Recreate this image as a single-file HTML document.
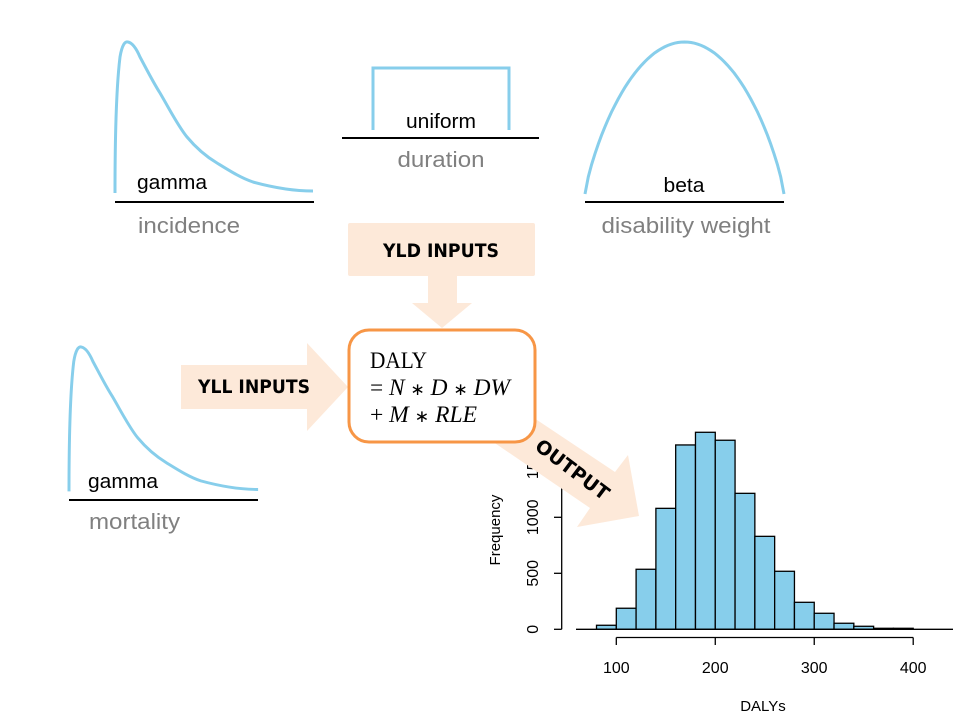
<!DOCTYPE html>
<html><head><meta charset="utf-8"><style>
html,body{margin:0;padding:0;background:#fff}
svg{display:block}
</style></head><body>
<svg id="root" width="960" height="720" viewBox="0 0 960 720" xmlns="http://www.w3.org/2000/svg" font-family="Liberation Sans, sans-serif">
 <g>
  <path d="M115,193 C115,150 116,90 120,57 C122,45 125,41 128,42 C133,43 137,50 140,57 C147,70 153,82 160,93 C170,110 178,126 187,137 C197,149 207,157 217,163 C230,171 241,178 253,182 C275,188 295,191 313,191" fill="none" stroke="#87ceeb" stroke-width="3"/>
  <line x1="115" y1="202" x2="314" y2="202" stroke="#000" stroke-width="2"/>
  <text x="137" y="189" font-size="20" textLength="70" lengthAdjust="spacingAndGlyphs">gamma</text>
  <text x="138" y="233" font-size="22" fill="#808080" textLength="102" lengthAdjust="spacingAndGlyphs">incidence</text>
 </g>
 <g>
  <path d="M373,130 L373,68 L509,68 L509,130" fill="none" stroke="#87ceeb" stroke-width="3"/>
  <line x1="342" y1="138" x2="539" y2="138" stroke="#000" stroke-width="2"/>
  <text x="441" y="128" font-size="20" text-anchor="middle" textLength="70" lengthAdjust="spacingAndGlyphs">uniform</text>
  <text x="441" y="167" font-size="22" fill="#808080" text-anchor="middle" textLength="87" lengthAdjust="spacingAndGlyphs">duration</text>
 </g>
 <g>
  <path id="betaCurve" d="" fill="none" stroke="#87ceeb" stroke-width="3"/>
  <line x1="585" y1="202" x2="784" y2="202" stroke="#000" stroke-width="2"/>
  <text x="684" y="192" font-size="20" text-anchor="middle" textLength="41" lengthAdjust="spacingAndGlyphs">beta</text>
  <text x="686" y="233" font-size="22" fill="#808080" text-anchor="middle" textLength="169" lengthAdjust="spacingAndGlyphs">disability weight</text>
 </g>
 <g>
  <g transform="translate(69,500) scale(0.955,0.956) translate(-115,-202)">
   <path d="M115,193 C115,150 116,90 120,57 C122,45 125,41 128,42 C133,43 137,50 140,57 C147,70 153,82 160,93 C170,110 178,126 187,137 C197,149 207,157 217,163 C230,171 241,178 253,182 C275,188 295,191 313,191" fill="none" stroke="#87ceeb" stroke-width="3.1"/>
  </g>
  <line x1="69" y1="500" x2="258" y2="500" stroke="#000" stroke-width="2"/>
  <text x="88" y="488" font-size="20" textLength="70" lengthAdjust="spacingAndGlyphs">gamma</text>
  <text x="89" y="529" font-size="22" fill="#808080" textLength="91" lengthAdjust="spacingAndGlyphs">mortality</text>
 </g>

 <g id="hist"></g>

 <polygon points="428,275 457,275 457,303 472,303 442,328 412,303 428,303" fill="#fde9d9"/>
 <rect x="348" y="223" width="187" height="53" rx="2" fill="#fde9d9"/>
 <text x="441" y="257" font-size="19" font-weight="bold" text-anchor="middle" font-family="DejaVu Sans, sans-serif" textLength="116" lengthAdjust="spacingAndGlyphs">YLD INPUTS</text>
 <polygon points="181,365 307,365 307,343 348,387 307,431 307,409 181,409" fill="#fde9d9"/>
 <text x="254" y="393" font-size="19" font-weight="bold" text-anchor="middle" font-family="DejaVu Sans, sans-serif" textLength="112" lengthAdjust="spacingAndGlyphs">YLL INPUTS</text>
 <polygon points="492,390 615,472 628,455 639,516 577,527 590,508 461,420" fill="#fde9d9"/>

 <rect x="349" y="330" width="186" height="112" rx="20" fill="#fff" stroke="#f79646" stroke-width="3"/>
 <g font-family="Liberation Serif, serif" font-size="23">
  <text x="370" y="368" textLength="57" lengthAdjust="spacingAndGlyphs">DALY</text>
  <text x="370" y="395" textLength="140" lengthAdjust="spacingAndGlyphs">= <tspan font-style="italic">N</tspan> <tspan font-size="17">∗</tspan> <tspan font-style="italic">D</tspan> <tspan font-size="17">∗</tspan> <tspan font-style="italic">DW</tspan></text>
  <text x="370" y="422" textLength="107" lengthAdjust="spacingAndGlyphs">+ <tspan font-style="italic">M</tspan> <tspan font-size="17">∗</tspan> <tspan font-style="italic">RLE</tspan></text>
 </g>
 <text x="572" y="476" font-size="19" font-weight="bold" text-anchor="middle" font-family="DejaVu Sans, sans-serif" transform="rotate(37 572 470)">OUTPUT</text>
</svg>
<script>
const binStarts = [80,100,120,140,160,180,200,220,240,260,280,300,320,340,360,380];
const binWidth = 20;
const counts = [36,188,536,1080,1646,1759,1688,1214,830,518,241,143,54,27,9,9];
const xTicks = [100,200,300,400];
const yTicks = [0,500,1000,1500];

const NS = 'http://www.w3.org/2000/svg';
const hist = document.getElementById('hist');
function xs(v){ return 616.3 + (v-100)*0.9897; }
function ys(v){ return 629.3 - v*0.112; }
function mk(tag, attrs){ const e=document.createElementNS(NS,tag); for(const k in attrs) e.setAttribute(k,attrs[k]); hist.appendChild(e); return e; }

for(let i=0;i<counts.length;i++){
  const x0=xs(binStarts[i]), x1=xs(binStarts[i]+binWidth), y=ys(counts[i]);
  const r=mk('rect',{x:x0,y:y,width:x1-x0,height:ys(0)-y,fill:'#87ceeb',stroke:'#000','stroke-width':1.3});
  
  
}
const base=mk('line',{x1:576,y1:ys(0),x2:953,y2:ys(0),stroke:'#000','stroke-width':1.3});



const xa=mk('line',{x1:xs(xTicks[0]),y1:637.5,x2:xs(xTicks[xTicks.length-1]),y2:637.5,stroke:'#000','stroke-width':1.3});


xTicks.forEach(t=>{
  const tk=mk('line',{x1:xs(t),y1:637.5,x2:xs(t),y2:645,stroke:'#000','stroke-width':1.3});
  
  
  const tl=mk('text',{x:xs(t),y:673,'font-size':16,'text-anchor':'middle'});
  tl.textContent=t;
  
  
});
const xt=mk('text',{x:763,y:711,'font-size':15,'text-anchor':'middle'});
xt.textContent='DALYs';



const ya=mk('line',{x1:561.7,y1:ys(yTicks[0]),x2:561.7,y2:ys(yTicks[yTicks.length-1]),stroke:'#000','stroke-width':1.3});


yTicks.forEach(t=>{
  const tk=mk('line',{x1:554,y1:ys(t),x2:561.7,y2:ys(t),stroke:'#000','stroke-width':1.3});
  
  
  const tl=mk('text',{x:538,y:ys(t),'font-size':16,'text-anchor':'middle',transform:'rotate(-90 538 '+ys(t)+')'});
  tl.textContent=t;
  
  
});
const yt=mk('text',{x:500,y:530,'font-size':15,'text-anchor':'middle',transform:'rotate(-90 500 530)'});
yt.textContent='Frequency';



(function(){
  let d='';
  for(let i=0;i<=60;i++){
    const u=i/60, x=585+u*199;
    const h=Math.pow(4*u*(1-u),0.8);
    const y=194-h*152;
    d+=(i?'L':'M')+x.toFixed(1)+','+y.toFixed(1);
  }
  document.getElementById('betaCurve').setAttribute('d',d);
})();
</script>
</body></html>
